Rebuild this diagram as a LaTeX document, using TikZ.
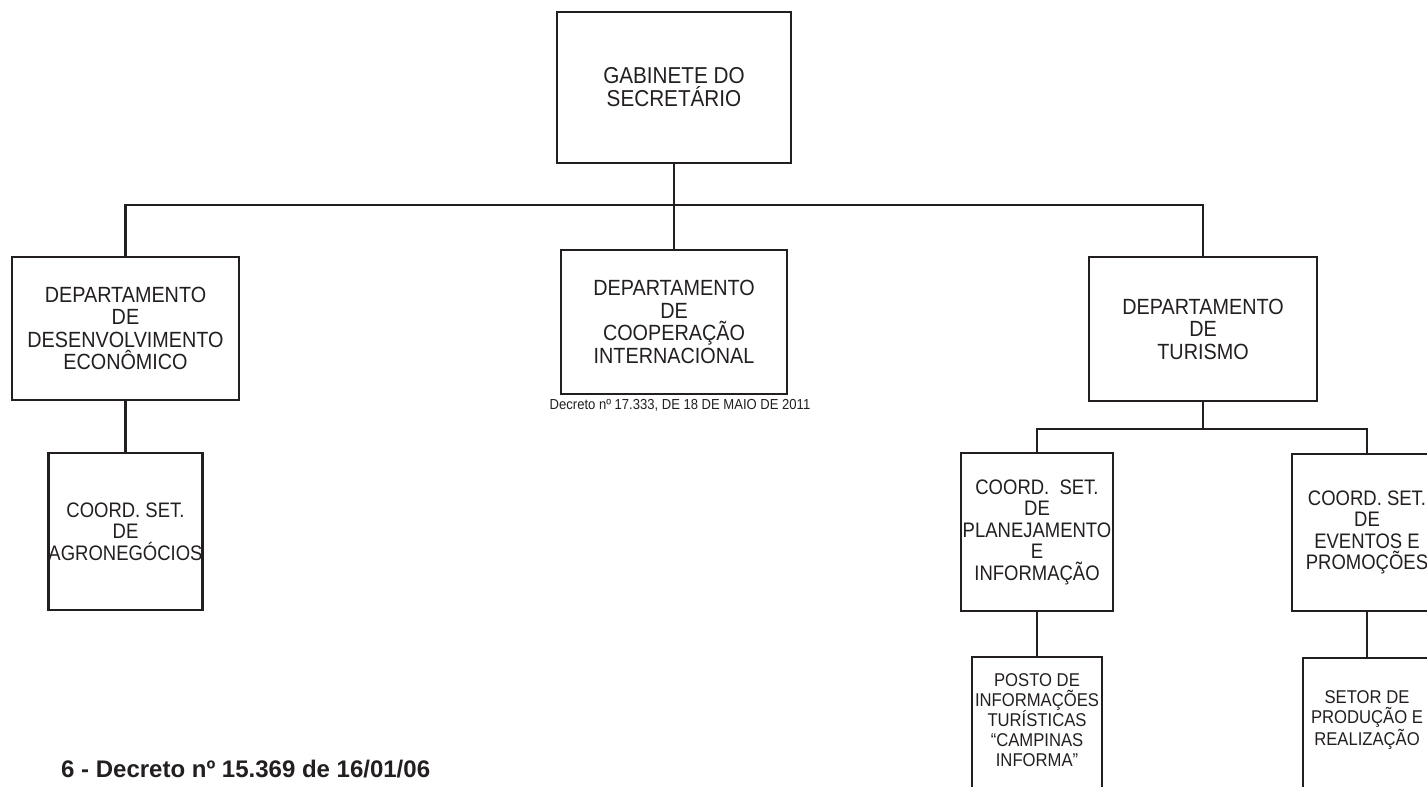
\documentclass[tikz,border=0pt]{standalone}
\usepackage{fontspec}
\setmainfont{Liberation Sans}
\newfontfamily\sqz[FakeStretch=0.9]{Liberation Sans}
\newfontfamily\sqzc[FakeStretch=0.88]{Liberation Sans}
\definecolor{ink}{RGB}{35,31,32}
\begin{document}
\begin{tikzpicture}[x=1pt,y=-1pt,
  box/.style={draw=ink, line width=2.2pt, fill=white, inner sep=0pt, align=center, text=ink},
  gabfont/.style={box, font=\sqz\fontsize{23}{23}\selectfont},
  deptbox/.style={box, font=\sqz\fontsize{22}{22.5}\selectfont},
  coordbox/.style={box, font=\sqzc\fontsize{21}{21.5}\selectfont},
  smalltext/.style={inner sep=0pt, align=center, text=ink, font=\sqz\fontsize{18.5}{20}\selectfont},
  conn/.style={draw=ink, line width=2.2pt, line join=miter}]
\useasboundingbox (0,0) rectangle (1427,787);
\clip (0,0) rectangle (1427,787);
\fill[white] (0,0) rectangle (1427,787);

% boxes
\node[gabfont, minimum width=234pt, minimum height=151pt] (gab) at (674,87.5) {GABINETE DO\\SECRETÁRIO};
\node[deptbox, minimum width=227pt, minimum height=143pt] (desenv) at (125.5,328.5) {DEPARTAMENTO\\DE\\DESENVOLVIMENTO\\ECONÔMICO};
\node[deptbox, minimum width=226pt, minimum height=144pt] (coop) at (674,322) {DEPARTAMENTO\\DE\\COOPERAÇÃO\\INTERNACIONAL};
\node[deptbox, minimum width=228pt, minimum height=144pt] (tur) at (1203,329) {DEPARTAMENTO\\DE\\TURISMO};
\node[coordbox, minimum width=152pt, minimum height=157pt] (agro) at (125.5,531.5) {COORD. SET.\\DE\\AGRONEGÓCIOS};
\node[coordbox, minimum width=152pt, minimum height=158pt] (planej) at (1037,532) {COORD.\ \ SET.\\DE\\PLANEJAMENTO\\E\\INFORMAÇÃO};
\node[coordbox, minimum width=150pt, minimum height=157pt] (eventos) at (1367,532.5) {COORD. SET.\\DE\\EVENTOS E\\PROMOÇÕES};
\node[box, minimum width=130pt, minimum height=150pt, anchor=north] (posto) at (1037,656) {};
\node[smalltext] (postotxt) at (1037,720) {POSTO DE\\INFORMAÇÕES\\TURÍSTICAS\\“CAMPINAS\\INFORMA”};
\node[box, minimum width=128pt, minimum height=150pt, anchor=north] (setor) at (1367,657) {};
\node[smalltext] (setortxt) at (1367,720) {SETOR DE\\PRODUÇÃO E\\REALIZAÇÃO};

% connectors
\draw[conn] (gab.south) -- ++(0,41) coordinate (bus);
\draw[conn] (desenv.north) |- (bus) -| (tur.north);
\draw[conn] (bus) -- (coop.north);
\draw[conn] (desenv.south) -- (agro.north);
\draw[conn] (tur.south) -- ++(0,27) coordinate (bus2);
\draw[conn] (planej.north) |- (bus2) -| (eventos.north);
\draw[conn] (planej.south) -- (posto.north);
\draw[conn] (eventos.south) -- (setor.north);

% captions
\node[inner sep=0pt, anchor=base, text=ink, font=\sqz\fontsize{14.5}{14.5}\selectfont] (cap) at (680,409) {Decreto nº 17.333, DE 18 DE MAIO DE 2011};
\node[inner sep=0pt, anchor=base west, text=ink, font=\bfseries\fontsize{24}{24}\selectfont] (foot) at (61,777) {6 - Decreto nº 15.369 de 16/01/06};
\end{tikzpicture}
\end{document}
